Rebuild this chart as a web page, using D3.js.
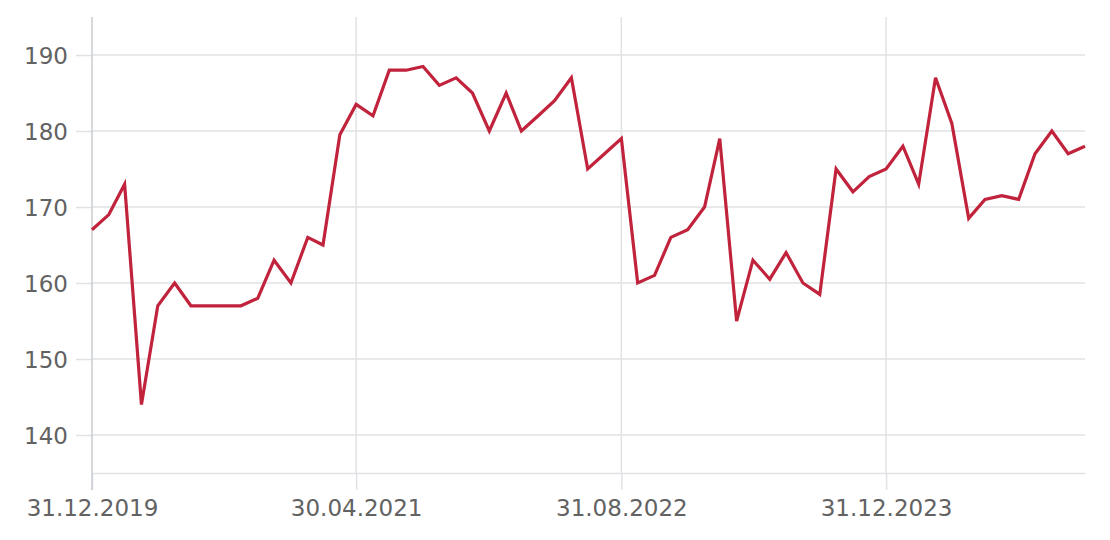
<!DOCTYPE html>
<html>
<head>
<meta charset="utf-8">
<script src="https://cdn.jsdelivr.net/npm/d3@7"></script>
<style>
  body { margin: 0; background: #fff; }
  svg text { font-family: "DejaVu Sans", sans-serif; }
</style>
</head>
<body>
<svg id="chart" width="1110" height="540"></svg>
<script>
// month-end values, Dec 2019 .. Dec 2024
const startMonth = "2019-12";
const values = [
  167, 169, 173, 144, 157, 160, 157, 157, 157, 157, 158, 163, 160, 166, 165, 179.5,
  183.5, 182, 188, 188, 188.5, 186, 187, 185, 180, 185, 180, 182, 184, 187, 175, 177,
  179, 160, 161, 166, 167, 170, 179, 155, 163, 160.5, 164, 160, 158.5, 175, 172,
  174, 175, 178, 173, 187, 181, 168.5, 171, 171.5, 171, 177, 180, 177, 178
];
const xTickLabels = ["31.12.2019", "30.04.2021", "31.08.2022", "31.12.2023"];
const yTicks = [140, 150, 160, 170, 180, 190];

const parseDay = d3.utcParse("%d.%m.%Y");
const fmtDay = d3.utcFormat("%d.%m.%Y");

// last day of each month
const first = d3.utcParse("%Y-%m")(startMonth);
const data = values.map((v, i) => ({
  date: d3.utcDay.offset(d3.utcMonth.offset(first, i + 1), -1),
  value: v
}));

const width = 1110, height = 540;
const margin = { top: 17, right: 25, bottom: 67, left: 92 };
const innerW = width - margin.left - margin.right;
const innerH = height - margin.top - margin.bottom;

const svg = d3.select("#chart");
const g = svg.append("g").attr("transform", `translate(${margin.left},${margin.top})`);

const x = d3.scaleUtc()
  .domain(d3.extent(data, d => d.date))
  .range([0, innerW]);

const y = d3.scaleLinear()
  .domain([135, 195])
  .range([innerH, 0]);

const gridColor = "#e0e2e5";
const axisColor = "#c9ccd0";
const textColor = "#626262";

// horizontal gridlines
g.append("g")
  .selectAll("line")
  .data(yTicks)
  .join("line")
  .attr("x1", 0).attr("x2", innerW)
  .attr("y1", d => y(d)).attr("y2", d => y(d))
  .attr("stroke", gridColor)
  .attr("stroke-width", 1.5);

// vertical gridlines
const xTicks = xTickLabels.map(parseDay);
g.append("g")
  .selectAll("line")
  .data(xTicks.slice(1))
  .join("line")
  .attr("x1", d => x(d)).attr("x2", d => x(d))
  .attr("y1", 0).attr("y2", innerH)
  .attr("stroke", gridColor)
  .attr("stroke-width", 1.5);

// x axis
const xAxis = g.append("g")
  .attr("transform", `translate(0,${innerH})`)
  .call(d3.axisBottom(x).tickValues(xTicks).tickFormat(fmtDay).tickSizeInner(17).tickSizeOuter(0).tickPadding(10));
xAxis.select(".domain").attr("stroke", gridColor).attr("stroke-width", 1.5);
xAxis.selectAll(".tick line").attr("stroke", gridColor).attr("stroke-width", 1.5);
xAxis.selectAll(".tick text")
  .attr("fill", textColor)
  .style("font-size", "23px");

// y axis
const yAxis = g.append("g")
  .call(d3.axisLeft(y).tickValues(yTicks).tickSizeInner(16).tickSizeOuter(0).tickPadding(8));
yAxis.select(".domain").remove();
yAxis.selectAll(".tick line").attr("stroke", gridColor).attr("stroke-width", 1.5);
yAxis.selectAll(".tick text")
  .attr("fill", textColor)
  .attr("dy", "0.36em")
  .style("font-size", "23px");

// left axis line, runs down past the bottom like the ticks
g.append("line")
  .attr("x1", 0).attr("x2", 0)
  .attr("y1", 0).attr("y2", innerH + 17)
  .attr("stroke", axisColor)
  .attr("stroke-width", 1.5);

// the series
const line = d3.line()
  .x(d => x(d.date))
  .y(d => y(d.value));

g.append("path")
  .datum(data)
  .attr("fill", "none")
  .attr("stroke", "#c0233b")
  .attr("stroke-width", 3.2)
  .attr("stroke-linejoin", "miter")
  .attr("d", line);
</script>
</body>
</html>
